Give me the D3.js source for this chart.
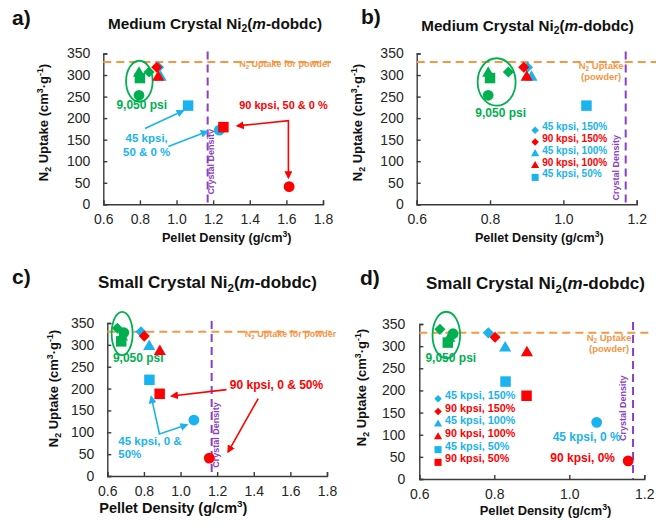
<!DOCTYPE html>
<html>
<head>
<meta charset="utf-8">
<script src="https://cdn.jsdelivr.net/npm/d3@7"></script>
<style>
  body { margin: 0; background: #fff; }
  svg { font-family: 'Liberation Sans', Arial, sans-serif; }
</style>
</head>
<body>
<svg id="chart" width="656" height="525"></svg>
<script>
// order of the markers inside every series: 150 %, 100 %, 50 %, 0 %
const percents = [150, 100, 50, 0];
const shapeNames = ['diamond', 'triangle', 'square', 'circle'];

// medium crystals: pellet density (g/cm3), N2 uptake (cm3/g)
const medGreenX = [0.850, 0.795, 0.800, 0.795];
const medGreenY = [307, 304, 293, 253];
const medBlueX = [0.902, 0.913, 1.063, 1.234];
const medBlueY = [318, 295, 229, 172];
const medRedX = [0.892, 0.900, 1.256, 1.615];
const medRedY = [318, 295, 179, 41];

// small crystals
const smGreenX = [0.655, 0.680, 0.676, 0.690];
const smGreenY = [338, 318, 308, 328];
const smBlueX = [0.784, 0.829, 0.830, 1.073];
const smBlueY = [330, 296, 220, 128];
const smRedX = [0.802, 0.887, 0.886, 1.157];
const smRedY = [320, 285, 188, 41];

const powderUptake = 330;
const crystalDensity = 1.17;
const yTicks = [0, 50, 100, 150, 200, 250, 300, 350];
const xTicksWide = [0.6, 0.8, 1.0, 1.2, 1.4, 1.6, 1.8];
const xTicksNarrow = [0.6, 0.8, 1.0, 1.2];
const legendLabels = ['45 kpsi, 150%', '90 kpsi, 150%', '45 kpsi, 100%', '90 kpsi, 100%', '45 kpsi, 50%', '90 kpsi, 50%'];

const GREEN = '#00B050', BLUE = '#19B3EF', RED = '#FF0000', ORANGE = '#F79646', PURPLE = '#8A3FC4', INK = '#262626';
const legendColors = [BLUE, RED, BLUE, RED, BLUE, RED];
const legendShapes = ['diamond', 'diamond', 'triangle', 'triangle', 'square', 'square'];

const svg = d3.select('#chart');
const defs = svg.append('defs');
[['red', RED], ['blue', BLUE]].forEach(([n, c]) => {
  defs.append('marker').attr('id', 'arrow-' + n)
    .attr('viewBox', '0 0 10 10').attr('refX', 8).attr('refY', 5)
    .attr('markerWidth', 5).attr('markerHeight', 5)
    .attr('orient', 'auto-start-reverse')
    .append('path').attr('d', 'M0,0L10,5L0,10z').attr('fill', c);
});

function series(xs, ys, color) {
  return xs.map((v, i) => ({x: v, y: ys[i], shape: shapeNames[i], pct: percents[i], color}));
}
const medium = [...series(medGreenX, medGreenY, GREEN), ...series(medBlueX, medBlueY, BLUE), ...series(medRedX, medRedY, RED)];
const small = [...series(smGreenX, smGreenY, GREEN), ...series(smBlueX, smBlueY, BLUE), ...series(smRedX, smRedY, RED)];

const symbolSizes = {diamond: 62, triangle: 64, square: 110, circle: 92};
const symbolTypes = {diamond: d3.symbolSquare, triangle: d3.symbolTriangle, square: d3.symbolSquare, circle: d3.symbolCircle};
function symPath(shape, k = 1) {
  return d3.symbol(symbolTypes[shape], symbolSizes[shape] * k)();
}
function symTransform(shape, px, py) {
  return `translate(${px},${py})` + (shape === 'diamond' ? ' rotate(45)' : '');
}

// text with sub/superscripts and italics
function rich(text, parts, fs) {
  let shift = 0;
  parts.forEach(p => {
    const target = p.sub ? 0.22 * fs : p.sup ? -0.38 * fs : 0;
    const ts = text.append('tspan').text(p.t).attr('dy', target - shift);
    if (p.sub || p.sup) ts.attr('font-size', fs * 0.68);
    if (p.italic) ts.attr('font-style', 'italic');
    shift = target;
  });
  return text;
}

function addText(g, px, py, parts, o) {
  const t = g.append('text')
    .attr('x', px).attr('y', py)
    .attr('font-size', o.size).attr('font-weight', o.weight || 'bold')
    .attr('fill', o.color || INK)
    .attr('text-anchor', o.anchor || 'middle');
  if (o.rotate) t.attr('transform', `rotate(-90,${px},${py})`);
  const inner = t.append('tspan').attr('dy', '0.35em');
  rich(inner, typeof parts === 'string' ? [{t: parts}] : parts, o.size);
  return t;
}

function drawPanel(p) {
  const g = svg.append('g');
  const x = d3.scaleLinear().domain([0.6, p.xMax]).range([p.left, p.right]);
  const y = d3.scaleLinear().domain([0, 350]).range([p.bottom, p.top]);

  // axes, ticks pointing inwards
  const xa = g.append('g').attr('transform', `translate(0,${p.bottom})`)
    .call(d3.axisBottom(x).tickValues(p.xTicks).tickFormat(d3.format('.1f')).tickSize(-4).tickPadding(p.xPad));
  const ya = g.append('g').attr('transform', `translate(${p.left},0)`)
    .call(d3.axisLeft(y).tickValues(yTicks).tickSize(-4).tickPadding(p.yPad));
  [xa, ya].forEach(a => {
    a.selectAll('path,line').attr('stroke', '#3a3a3a').attr('stroke-width', 1.4);
    a.selectAll('text').attr('font-size', 14).attr('fill', INK).attr('font-family', 'Liberation Sans, Arial, sans-serif');
  });

  // reference lines
  g.append('line')
    .attr('x1', p.left).attr('x2', p.orangeEnd)
    .attr('y1', y(powderUptake)).attr('y2', y(powderUptake))
    .attr('stroke', ORANGE).attr('stroke-width', 2).attr('stroke-dasharray', '8,5');
  g.append('line')
    .attr('x1', x(crystalDensity)).attr('x2', x(crystalDensity))
    .attr('y1', p.top - 2).attr('y2', p.bottom)
    .attr('stroke', PURPLE).attr('stroke-width', 2).attr('stroke-dasharray', '8,5');
  addText(g, x(crystalDensity) + p.crystal.dx, y(p.crystal.y), 'Crystal Density',
    {size: 9, color: PURPLE, rotate: true});

  // 9,050 psi group
  g.append('ellipse')
    .attr('cx', x(p.ellipse.x)).attr('cy', y(p.ellipse.y))
    .attr('rx', p.ellipse.rx).attr('ry', p.ellipse.ry)
    .attr('fill', 'none').attr('stroke', GREEN).attr('stroke-width', 1.8);
  addText(g, x(p.psi[0]), y(p.psi[1]), '9,050 psi', {size: 12, color: GREEN});

  // points
  g.append('g').selectAll('path')
    .data(p.points.filter(d => d.x <= p.xMax))
    .join('path')
    .attr('d', d => symPath(d.shape))
    .attr('transform', d => symTransform(d.shape, x(d.x), y(d.y)))
    .attr('fill', d => d.color);

  // titles and axis labels
  addText(svg, p.label[0], p.label[1], p.key + ')', {size: 21, anchor: 'start', color: '#111'});
  addText(svg, p.titleAt[0], p.titleAt[1],
    [{t: p.title + ' Crystal Ni'}, {t: '2', sub: true}, {t: '('}, {t: 'm', italic: true}, {t: '-dobdc)'}],
    {size: p.titleSize, color: '#111'});
  addText(svg, p.yLabelAt[0], p.yLabelAt[1],
    [{t: 'N'}, {t: '2', sub: true}, {t: ' Uptake (cm'}, {t: '3', sup: true}, {t: '·g'}, {t: '-1', sup: true}, {t: ')'}],
    {size: 13, rotate: true, color: '#111'});
  addText(svg, p.xLabelAt[0], p.xLabelAt[1],
    [{t: 'Pellet Density (g/cm'}, {t: '3', sup: true}, {t: ')'}],
    {size: p.xLabelSize, color: '#111'});

  const line = d3.line().x(d => x(d[0])).y(d => y(d[1]));
  (p.arrows || []).forEach(a => {
    g.append('path').attr('d', line(a.pts))
      .attr('fill', 'none').attr('stroke', a.color === 'red' ? RED : BLUE).attr('stroke-width', 1.6)
      .attr('marker-end', `url(#arrow-${a.color})`)
      .attr('marker-start', a.both ? `url(#arrow-${a.color})` : null);
  });
  (p.notes || []).forEach(n => {
    addText(g, x(n.x), y(n.y), n.parts, {size: n.size, color: n.color, anchor: n.anchor});
  });

  if (p.legend) {
    const lg = g.append('g');
    for (let i = 0; i < p.legend.n; i++) {
      const lx = x(p.legend.x), ly = y(p.legend.y) + i * p.legend.step;
      lg.append('path').attr('d', symPath(legendShapes[i], 0.45))
        .attr('transform', symTransform(legendShapes[i], lx, ly))
        .attr('fill', legendColors[i]);
      addText(lg, lx + 7, ly, legendLabels[i], {size: p.legend.size, color: legendColors[i], anchor: 'start'});
    }
  }
}

const powderLine = [{t: 'N'}, {t: '2', sub: true}, {t: ' Uptake for powder'}];
const powderTop = [{t: 'N'}, {t: '2', sub: true}, {t: ' Uptake'}];

drawPanel({
  key: 'a', title: 'Medium', points: medium, xMax: 1.8, xTicks: xTicksWide,
  left: 103.3, right: 323, top: 53.5, bottom: 204.3, xPad: 10, yPad: 13, orangeEnd: 331,
  label: [12, 25], titleAt: [215, 29], titleSize: 15.3, yLabelAt: [48, 122.5],
  xLabelAt: [226.7, 242], xLabelSize: 12.7,
  crystal: {y: 99, dx: 6},
  ellipse: {x: 0.797, y: 285.6, rx: 13.3, ry: 20.5}, psi: [0.81, 221],
  arrows: [
    {color: 'red', both: true, pts: [[1.332, 182], [1.611, 194], [1.611, 62]]},
    {color: 'blue', pts: [[0.828, 176], [1.036, 217]]},
    {color: 'blue', pts: [[0.955, 134], [1.168, 169]]}
  ],
  notes: [
    {x: 1.342, y: 221, parts: '90 kpsi, 50 & 0 %', color: RED, size: 11, anchor: 'start'},
    {x: 0.837, y: 145, parts: '45 kpsi,', color: BLUE, size: 11.5},
    {x: 0.837, y: 113, parts: '50 & 0 %', color: BLUE, size: 11.5},
    {x: 1.342, y: 319, parts: powderLine, color: ORANGE, size: 9, anchor: 'start'}
  ]
});

drawPanel({
  key: 'b', title: 'Medium', points: medium, xMax: 1.2, xTicks: xTicksNarrow,
  left: 416.7, right: 636.7, top: 53.5, bottom: 204.3, xPad: 10, yPad: 13, orangeEnd: 656,
  label: [361, 24], titleAt: [527.5, 31], titleSize: 15.2, yLabelAt: [362, 122.5],
  xLabelAt: [539.3, 242], xLabelSize: 12.6,
  crystal: {y: 85, dx: -7},
  ellipse: {x: 0.818, y: 284, rx: 19, ry: 23.7}, psi: [0.829, 202.5],
  notes: [
    {x: 1.103, y: 314, parts: powderTop, color: ORANGE, size: 9.5},
    {x: 1.103, y: 288.5, parts: '(powder)', color: ORANGE, size: 9.5}
  ],
  legend: {n: 5, x: 0.923, y: 172, step: 11.8, size: 10}
});

drawPanel({
  key: 'c', title: 'Small', points: small, xMax: 1.8, xTicks: xTicksWide,
  left: 107.3, right: 327, top: 323, bottom: 476, xPad: 10, yPad: 13, orangeEnd: 331,
  label: [12, 284], titleAt: [207.5, 288], titleSize: 17, yLabelAt: [58.3, 388.5],
  xLabelAt: [173.3, 513], xLabelSize: 14.5,
  crystal: {y: 94, dx: 7},
  ellipse: {x: 0.681, y: 326, rx: 10.5, ry: 21.7}, psi: [0.769, 261],
  arrows: [
    {color: 'red', pts: [[1.251, 197.5], [0.951, 183]]},
    {color: 'red', pts: [[1.424, 177], [1.26, 55]]},
    {color: 'blue', both: true, pts: [[0.84, 181], [0.885, 96], [1.035, 117]]}
  ],
  notes: [
    {x: 1.269, y: 198, parts: '90 kpsi, 0 & 50%', color: RED, size: 12, anchor: 'start'},
    {x: 0.66, y: 71.6, parts: '45 kpsi, 0 &', color: BLUE, size: 11.5, anchor: 'start'},
    {x: 0.66, y: 41.2, parts: '50%', color: BLUE, size: 11.5, anchor: 'start'},
    {x: 1.351, y: 318, parts: powderLine, color: ORANGE, size: 9, anchor: 'start'}
  ]
});

drawPanel({
  key: 'd', title: 'Small', points: small, xMax: 1.2, xTicks: xTicksNarrow,
  left: 419.3, right: 644.3, top: 324, bottom: 479, xPad: 10, yPad: 14, orangeEnd: 650,
  label: [360, 285], titleAt: [535.5, 289], titleSize: 17, yLabelAt: [366.3, 387.5],
  xLabelAt: [545.5, 515], xLabelSize: 12.9,
  crystal: {y: 160, dx: -7},
  ellipse: {x: 0.672, y: 325, rx: 13.8, ry: 23.3}, psi: [0.684, 264],
  notes: [
    {x: 1.106, y: 310.7, parts: powderTop, color: ORANGE, size: 9.5},
    {x: 1.106, y: 286, parts: '(powder)', color: ORANGE, size: 9.5},
    {x: 1.137, y: 85.8, parts: '45 kpsi, 0 %', color: BLUE, size: 12, anchor: 'end'},
    {x: 1.122, y: 38.4, parts: '90 kpsi, 0%', color: RED, size: 12, anchor: 'end'}
  ],
  legend: {n: 6, x: 0.65, y: 181, step: 12.7, size: 10.8}
});
</script>
</body>
</html>
